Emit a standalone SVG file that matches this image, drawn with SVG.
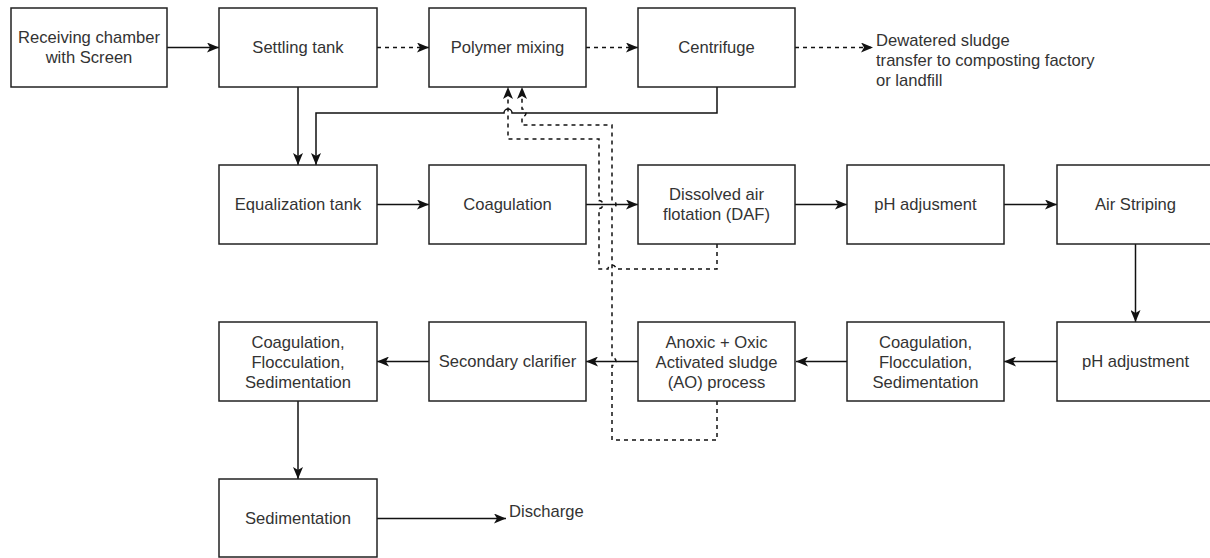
<svg xmlns="http://www.w3.org/2000/svg" width="1210" height="558" viewBox="0 0 1210 558">
<style>
.box{fill:#fff;stroke:#222;stroke-width:1.5}
.t{font-family:"Liberation Sans",Arial,Helvetica,sans-serif;font-size:16.6px;fill:#333;text-anchor:middle}
.tl{font-family:"Liberation Sans",Arial,Helvetica,sans-serif;font-size:16.6px;fill:#333;text-anchor:start}
.c{fill:none;stroke:#111;stroke-width:1.5}
.d{fill:none;stroke:#111;stroke-width:1.5;stroke-dasharray:4 4}
</style>
<defs>
<marker id="ar" viewBox="0 0 12 10" markerWidth="12" markerHeight="10" refX="12" refY="5" orient="auto" markerUnits="userSpaceOnUse">
<path d="M0,0 L12,5 L0,10 L3,5 Z" fill="#111"/>
</marker>
</defs>
<rect width="1210" height="558" fill="#fff"/>

<g id="connectors">
<path class="c" d="M167,47.5 H219" marker-end="url(#ar)"/>
<path class="d" d="M377,47.5 H429" marker-end="url(#ar)"/>
<path class="d" d="M586,47.5 H638" marker-end="url(#ar)"/>
<path class="d" d="M795,47.5 H873" marker-end="url(#ar)"/>
<path class="c" d="M298,87 V165" marker-end="url(#ar)"/>
<path class="c" d="M717,87 V113 H512 a4,4 0 0 0 -8,0 H316 V165" marker-end="url(#ar)"/>
<path class="d" d="M717,244 V269 H616 a4,4 0 0 0 -8,0 H599 V208.5 a4,4 0 0 0 0,-8 V139 H508 V87" marker-end="url(#ar)"/>
<path class="d" d="M717,401 V440 H612 V365.5 a4,4 0 0 0 0,-8 V208.5 a4,4 0 0 0 0,-8 V125 H522 V117 a4,4 0 0 0 0,-8 V87" marker-end="url(#ar)"/>
<path class="c" d="M377,204.5 H429" marker-end="url(#ar)"/>
<path class="c" d="M586,204.5 H638" marker-end="url(#ar)"/>
<path class="c" d="M795,204.5 H847" marker-end="url(#ar)"/>
<path class="c" d="M1004,204.5 H1057" marker-end="url(#ar)"/>
<path class="c" d="M1135.5,244 V322" marker-end="url(#ar)"/>
<path class="c" d="M1057,361.5 H1004" marker-end="url(#ar)"/>
<path class="c" d="M847,361.5 H796" marker-end="url(#ar)"/>
<path class="c" d="M638,361.5 H586" marker-end="url(#ar)"/>
<path class="c" d="M429,361.5 H377" marker-end="url(#ar)"/>
<path class="c" d="M298,401 V479" marker-end="url(#ar)"/>
<path class="c" d="M377,518.5 H506" marker-end="url(#ar)"/>
</g>

<g id="receiving"><rect class="box" x="11" y="8" width="156" height="79"/><text class="t" x="89" y="42.5">Receiving chamber</text><text class="t" x="89" y="62.5">with Screen</text></g>
<g id="settling"><rect class="box" x="219" y="8" width="158" height="79"/><text class="t" x="298" y="53">Settling tank</text></g>
<g id="polymer"><rect class="box" x="429" y="8" width="157" height="79"/><text class="t" x="507.5" y="53">Polymer mixing</text></g>
<g id="centrifuge"><rect class="box" x="638" y="8" width="157" height="79"/><text class="t" x="716.5" y="53">Centrifuge</text></g>
<g id="dewatered"><text class="tl" x="876" y="46">Dewatered sludge</text><text class="tl" x="876" y="66">transfer to composting factory</text><text class="tl" x="876" y="86">or landfill</text></g>

<g id="equalization"><rect class="box" x="219" y="165" width="158" height="79"/><text class="t" x="298" y="210">Equalization tank</text></g>
<g id="coagulation"><rect class="box" x="429" y="165" width="157" height="79"/><text class="t" x="507.5" y="210">Coagulation</text></g>
<g id="daf"><rect class="box" x="638" y="165" width="157" height="79"/><text class="t" x="716.5" y="200">Dissolved air</text><text class="t" x="716.5" y="220">flotation (DAF)</text></g>
<g id="ph1"><rect class="box" x="847" y="165" width="157" height="79"/><text class="t" x="925.5" y="210">pH adjusment</text></g>
<g id="airstrip"><rect class="box" x="1057" y="165" width="157" height="79"/><text class="t" x="1135.5" y="210">Air Striping</text></g>

<g id="cfs1"><rect class="box" x="219" y="322" width="158" height="79"/><text class="t" x="298" y="347.5">Coagulation,</text><text class="t" x="298" y="367.5">Flocculation,</text><text class="t" x="298" y="387.5">Sedimentation</text></g>
<g id="secondary"><rect class="box" x="429" y="322" width="157" height="79"/><text class="t" x="507.5" y="367">Secondary clarifier</text></g>
<g id="ao"><rect class="box" x="638" y="322" width="157" height="79"/><text class="t" x="716.5" y="347.5">Anoxic + Oxic</text><text class="t" x="716.5" y="367.5">Activated sludge</text><text class="t" x="716.5" y="387.5">(AO) process</text></g>
<g id="cfs2"><rect class="box" x="847" y="322" width="157" height="79"/><text class="t" x="925.5" y="347.5">Coagulation,</text><text class="t" x="925.5" y="367.5">Flocculation,</text><text class="t" x="925.5" y="387.5">Sedimentation</text></g>
<g id="ph2"><rect class="box" x="1057" y="322" width="157" height="79"/><text class="t" x="1135.5" y="367">pH adjustment</text></g>

<g id="sedimentation"><rect class="box" x="219" y="479" width="158" height="78"/><text class="t" x="298" y="524">Sedimentation</text></g>
<g id="discharge"><text class="tl" x="509" y="517">Discharge</text></g>
</svg>
